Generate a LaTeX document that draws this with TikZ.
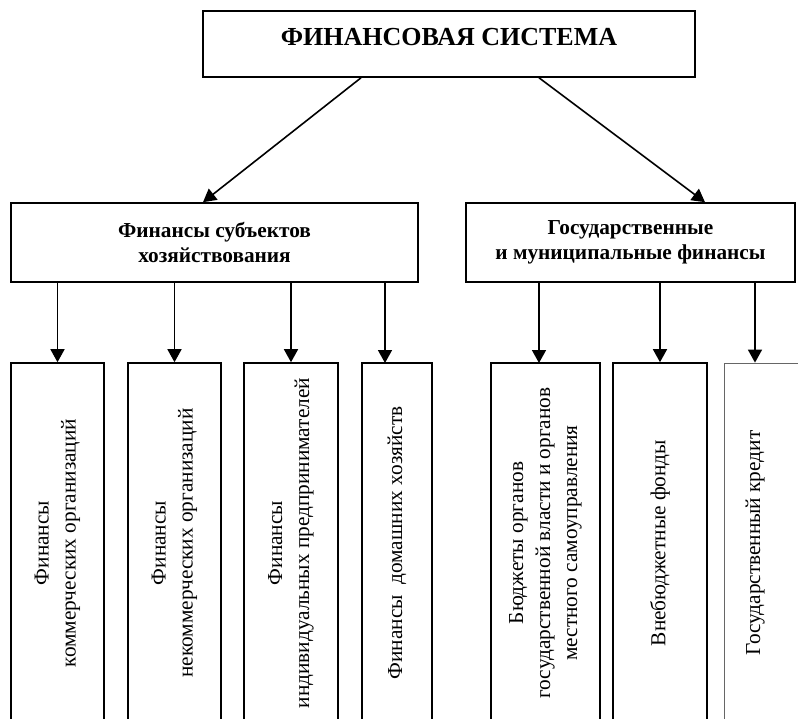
\documentclass[tikz,border=0pt]{standalone}
\usepackage{fontspec}
\setmainfont{Liberation Serif}
\usetikzlibrary{arrows.meta}
\begin{document}
\begin{tikzpicture}[x=1pt,y=-1pt,line width=1.6pt,
    sysbox/.style={draw,minimum width=492pt,minimum height=66pt,inner sep=0pt,
        text height=19pt,text depth=17pt,font=\fontsize{26pt}{30pt}\selectfont\bfseries},
    groupbox/.style={draw,minimum width=#1,minimum height=79pt,inner sep=0pt,align=center,
        font=\fontsize{21.3pt}{24.5pt}\selectfont\bfseries},
    leafbox/.style={draw,rotate=90,minimum width=360pt,minimum height=#1,inner sep=0pt,align=center,
        font=\fontsize{21.3pt}{27pt}\selectfont},
    arr/.style={-{Triangle[length=13pt,width=14pt]}}]
\useasboundingbox (0,0) rectangle (798,718);
\node[sysbox] (sys) at (449,44) {ФИНАНСОВАЯ СИСТЕМА};
\node[groupbox=407pt] (fin) at (214.5,242.5) {Финансы субъектов\\хозяйствования};
\node[groupbox=329pt] (gov) at (630.5,242.5) {Государственные\\и муниципальные финансы};
\node[leafbox=93pt] (b1) at (57.5,543) {Финансы\\коммерческих организаций};
\node[leafbox=93pt] (b2) at (174.5,543) {Финансы\\некоммерческих организаций};
\node[leafbox=94pt] (b3) at (291,543) {Финансы\\индивидуальных предпринимателей};
\node[leafbox=70pt] (b4) at (397,543) {Финансы\ \ домашних хозяйств};
\node[leafbox=109pt] (b5) at (545.5,543) {Бюджеты органов\\государственной власти и органов\\местного самоуправления};
\node[leafbox=94pt] (b6) at (660,543) {Внебюджетные фонды};
\node[leafbox=94pt,draw=black!60,line width=0.8pt] (b7) at (771,543) {};
\node[rotate=90,font=\fontsize{21.3pt}{27pt}\selectfont] (b7text) at (755,543) {Государственный кредит};
\coordinate (t4) at (385,363);
\coordinate (t5) at (539,363);
\draw[arr] ([xshift=-88pt]sys.south) -- ([xshift=-11.5pt]fin.north);
\draw[arr] ([xshift=90pt]sys.south) -- ([xshift=74.5pt]gov.north);
\foreach \b in {b1,b2,b3}
    \draw[arr] (\b.east |- fin.south) -- (\b.east);
\draw[arr] (t4 |- fin.south) -- (t4);
\draw[arr] (t5 |- gov.south) -- (t5);
\draw[arr] (b6.east |- gov.south) -- (b6.east);
\draw[arr] (b7text |- gov.south) -- (b7text |- b7.east);
\end{tikzpicture}
\end{document}
